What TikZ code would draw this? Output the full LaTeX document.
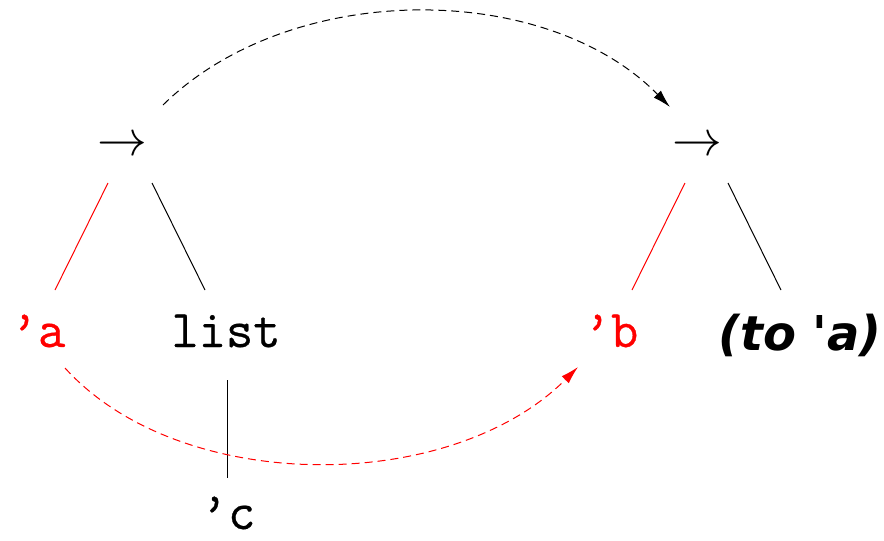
\documentclass[tikz,border=0pt]{standalone}
\usepackage{fontspec}
\newfontfamily\comicfont{DejaVu Sans}
\newfontfamily\monofont{Latin Modern Mono}[FakeBold=0.6]
\usetikzlibrary{arrows.meta,calc}
\begin{document}
\begin{tikzpicture}[x=0.5pt,y=-0.5pt,
  lbl/.style={inner sep=0pt,font=\fontsize{26.5}{30}\selectfont\monofont},
  arr/.style={inner sep=0pt,font=\fontsize{25}{30}\selectfont},
  edge/.style={line width=0.5pt},
  dsh/.style={line width=0.5pt,dash pattern=on 4pt off 2.5pt,-{Latex[length=9pt,width=5pt]}}]
\useasboundingbox (0,0) rectangle (884,541);
\node[arr] (L) at (122,146) {$\rightarrow$};
\node[arr] (R) at (697,146) {$\rightarrow$};
\node[lbl,red,anchor=base] (qa) at (38,347) {’a};
\node[lbl,anchor=base] (list) at (226,347) {list};
\node[lbl,red,anchor=base] (qb) at (611,347) {’b};
\node[inner sep=0pt,anchor=base,font=\fontsize{24}{30}\selectfont\comicfont\bfseries\itshape] (to) at (800,350) {(to 'a)};
\node[lbl,anchor=base] (qc) at (228,529) {’c};
\draw[edge,red] ($(L)+(-14,37)$) -- ($(qa.base)+(17,-57)$);
\draw[edge] ($(L)+(30,37)$) -- ($(list.base)+(-21,-57)$);
\draw[edge,red] ($(R)+(-12,37)$) -- ($(qb.base)+(21,-57)$);
\draw[edge] ($(R)+(31,37)$) -- ($(to.base)+(-19,-60)$);
\draw[edge] ($(list.base)+(1,33)$) -- ($(qc.base)+(-1,-51)$);
\draw[dsh] ($(L)+(41,-41)$) .. controls +(127,-125) and +(-125,-127) .. ($(R)+(-27,-39)$);
\draw[dsh,red] ($(qa.base)+(27,21)$) .. controls +(115,127) and +(-128,128) .. ($(qb.base)+(-33,20)$);
\end{tikzpicture}
\end{document}
